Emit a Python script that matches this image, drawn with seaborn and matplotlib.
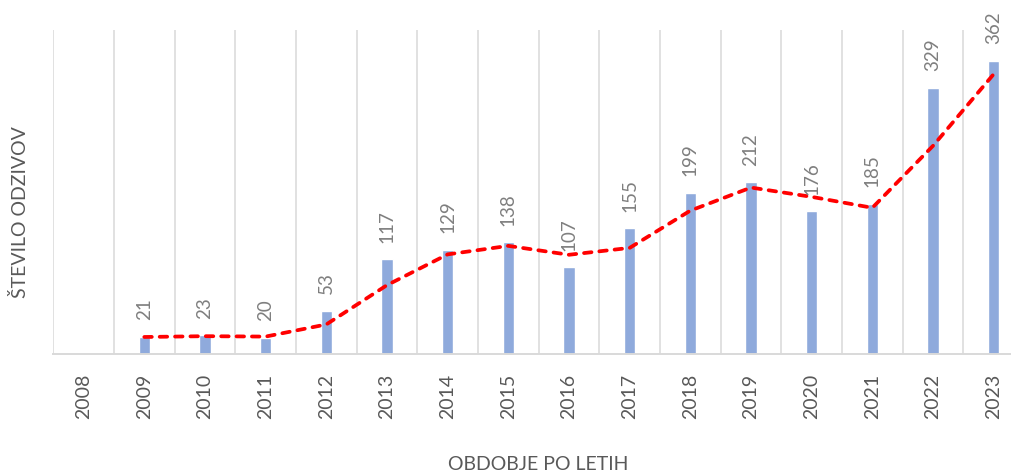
import numpy as np
import pandas as pd
import matplotlib
matplotlib.use("Agg")
import matplotlib.pyplot as plt
import seaborn as sns

# ---- data ----
years = ["2008", "2009", "2010", "2011", "2012", "2013", "2014", "2015",
         "2016", "2017", "2018", "2019", "2020", "2021", "2022", "2023"]
responses = [np.nan, 21, 23, 20, 53, 117, 129, 138, 107, 155, 199, 212, 176, 185, 329, 362]
y_label = "ŠTEVILO ODZIVOV"
x_label = "OBDOBJE PO LETIH"

df = pd.DataFrame({"year": years, "n": responses})
# 2-period moving average trendline (as in the original chart)
df["ma"] = df["n"].rolling(2, min_periods=1).mean()

sns.set_theme(style="white")
plt.rcParams["font.family"] = ["Lato", "DejaVu Sans"]

W, H = 1012, 474
fig = plt.figure(figsize=(W / 100, H / 100), dpi=100)
left, right, top, bottom = 53.3, 1024.0, 30.0, 354.0
ax = fig.add_axes([left / W, 1 - bottom / H, (right - left) / W, (bottom - top) / H])

grid_c = "#d9d9d9"
text_c = "#595959"

# vertical category gridlines
for i in range(len(years) + 1):
    ax.axvline(i - 0.5, color=grid_c, lw=1.1, zorder=0)

sns.barplot(data=df, x="year", y="n", order=years, color="#8faadc",
            saturation=1, width=0.19, ax=ax, zorder=2)

sns.lineplot(x=np.arange(len(years)), y=df["ma"].values, ax=ax, color="#ff0000",
             lw=2.7, zorder=3)
ln = ax.lines[-1]
ln.set_dashes((2.0, 2.1))
ln.set_dash_capstyle("round")

for i, v in enumerate(responses):
    if not np.isnan(v):
        ax.annotate(f"{int(v)}", xy=(i, v), xytext=(0, 12), textcoords="offset points",
                    rotation=90, ha="center", va="bottom", fontsize=13.5, color="#7f7f7f")

ax.set_xlim(-0.5, len(years) - 0.5)
ax.set_ylim(0, 400)
ax.set_yticks([])
ax.set_xlabel("")
ax.set_ylabel("")
for s in ["top", "right", "left"]:
    ax.spines[s].set_visible(False)
ax.spines["bottom"].set_color(grid_c)
ax.spines["bottom"].set_linewidth(1.4)
ax.tick_params(axis="x", length=0, pad=14, labelsize=14, labelcolor=text_c, rotation=90)
for t in ax.get_xticklabels():
    t.set_va("top")
    t.set_ha("center")

fig.text(20 / W, 1 - 212 / H, y_label, rotation=90, ha="center", va="center",
         fontsize=14, color=text_c)
fig.text(538 / W, 1 - 465 / H, x_label, ha="center", va="center",
         fontsize=14, color=text_c)

fig.savefig("out.png", dpi=100)
